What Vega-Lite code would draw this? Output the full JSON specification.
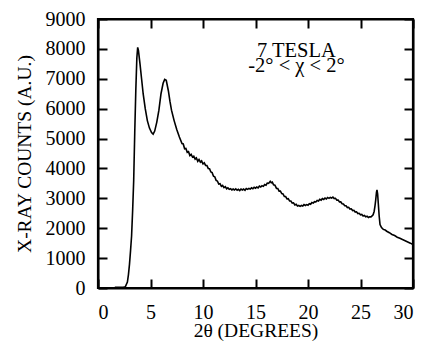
{
  "$schema": "https://vega.github.io/schema/vega-lite/v6.json",
  "width": 315,
  "height": 269,
  "autosize": "none",
  "padding": {"left": 98, "top": 19, "right": 13, "bottom": 53},
  "config": {
    "view": {"stroke": "black", "strokeWidth": 2.2},
    "font": "Liberation Serif",
    "axis": {
      "grid": false,
      "labelFont": "Liberation Serif",
      "labelFontSize": 20,
      "labelColor": "black",
      "titleFont": "Liberation Serif",
      "titleFontSize": 19.5,
      "titleFontWeight": "normal",
      "titleColor": "black",
      "format": "d"
    }
  },
  "datasets": {
    "scan": [
      {"x": 1.6, "y": 20}, {"x": 2.0, "y": 20}, {"x": 2.4, "y": 25}, {"x": 2.6, "y": 40},
      {"x": 2.8, "y": 200}, {"x": 2.9, "y": 450}, {"x": 3.0, "y": 800}, {"x": 3.1, "y": 1250},
      {"x": 3.2, "y": 1750}, {"x": 3.3, "y": 2600}, {"x": 3.4, "y": 3600}, {"x": 3.5, "y": 5200},
      {"x": 3.6, "y": 6600}, {"x": 3.7, "y": 7700}, {"x": 3.78, "y": 8050}, {"x": 3.85, "y": 7950},
      {"x": 4.0, "y": 7500}, {"x": 4.15, "y": 7000}, {"x": 4.3, "y": 6500}, {"x": 4.5, "y": 6000},
      {"x": 4.7, "y": 5600}, {"x": 4.9, "y": 5350}, {"x": 5.1, "y": 5200}, {"x": 5.25, "y": 5150},
      {"x": 5.4, "y": 5250}, {"x": 5.6, "y": 5550}, {"x": 5.8, "y": 5950}, {"x": 6.0, "y": 6500},
      {"x": 6.2, "y": 6850}, {"x": 6.35, "y": 6980}, {"x": 6.5, "y": 6950}, {"x": 6.7, "y": 6600},
      {"x": 6.85, "y": 6250}, {"x": 7.0, "y": 5950}, {"x": 7.25, "y": 5600}, {"x": 7.5, "y": 5300},
      {"x": 7.75, "y": 5050}, {"x": 8.0, "y": 4830}, {"x": 8.12, "y": 4820}, {"x": 8.25, "y": 4660},
      {"x": 8.37, "y": 4670}, {"x": 8.5, "y": 4540}, {"x": 8.62, "y": 4560}, {"x": 8.75, "y": 4430},
      {"x": 8.87, "y": 4470}, {"x": 9.0, "y": 4380}, {"x": 9.12, "y": 4410}, {"x": 9.25, "y": 4310},
      {"x": 9.37, "y": 4350}, {"x": 9.5, "y": 4240}, {"x": 9.62, "y": 4300}, {"x": 9.75, "y": 4210},
      {"x": 9.87, "y": 4250}, {"x": 10.0, "y": 4150}, {"x": 10.12, "y": 4190}, {"x": 10.25, "y": 4100},
      {"x": 10.37, "y": 4100}, {"x": 10.5, "y": 4000}, {"x": 10.62, "y": 3990}, {"x": 10.75, "y": 3880},
      {"x": 10.87, "y": 3860}, {"x": 11.0, "y": 3740}, {"x": 11.12, "y": 3720}, {"x": 11.25, "y": 3600},
      {"x": 11.37, "y": 3580}, {"x": 11.5, "y": 3480}, {"x": 11.62, "y": 3490}, {"x": 11.75, "y": 3400},
      {"x": 11.87, "y": 3430}, {"x": 12.0, "y": 3360}, {"x": 12.12, "y": 3390}, {"x": 12.25, "y": 3320},
      {"x": 12.37, "y": 3350}, {"x": 12.5, "y": 3300}, {"x": 12.62, "y": 3320}, {"x": 12.75, "y": 3280},
      {"x": 12.87, "y": 3310}, {"x": 13.0, "y": 3280}, {"x": 13.12, "y": 3320}, {"x": 13.25, "y": 3270},
      {"x": 13.37, "y": 3300}, {"x": 13.5, "y": 3260}, {"x": 13.62, "y": 3310}, {"x": 13.75, "y": 3280},
      {"x": 13.87, "y": 3310}, {"x": 14.0, "y": 3270}, {"x": 14.12, "y": 3330}, {"x": 14.25, "y": 3300},
      {"x": 14.37, "y": 3330}, {"x": 14.5, "y": 3310}, {"x": 14.62, "y": 3350}, {"x": 14.75, "y": 3320},
      {"x": 14.87, "y": 3370}, {"x": 15.0, "y": 3340}, {"x": 15.12, "y": 3380}, {"x": 15.25, "y": 3350},
      {"x": 15.37, "y": 3410}, {"x": 15.5, "y": 3380}, {"x": 15.62, "y": 3420}, {"x": 15.75, "y": 3400},
      {"x": 15.87, "y": 3460}, {"x": 16.0, "y": 3440}, {"x": 16.12, "y": 3510}, {"x": 16.25, "y": 3500},
      {"x": 16.4, "y": 3570}, {"x": 16.5, "y": 3520}, {"x": 16.6, "y": 3540}, {"x": 16.72, "y": 3450},
      {"x": 16.85, "y": 3440}, {"x": 17.0, "y": 3330}, {"x": 17.12, "y": 3330}, {"x": 17.25, "y": 3240},
      {"x": 17.37, "y": 3240}, {"x": 17.5, "y": 3160}, {"x": 17.62, "y": 3150}, {"x": 17.75, "y": 3060},
      {"x": 17.87, "y": 3060}, {"x": 18.0, "y": 2980}, {"x": 18.12, "y": 2990}, {"x": 18.25, "y": 2910},
      {"x": 18.37, "y": 2910}, {"x": 18.5, "y": 2840}, {"x": 18.62, "y": 2850}, {"x": 18.75, "y": 2780},
      {"x": 18.87, "y": 2800}, {"x": 19.0, "y": 2740}, {"x": 19.12, "y": 2760}, {"x": 19.25, "y": 2730},
      {"x": 19.37, "y": 2760}, {"x": 19.5, "y": 2740}, {"x": 19.62, "y": 2790}, {"x": 19.75, "y": 2760},
      {"x": 19.87, "y": 2790}, {"x": 20.0, "y": 2770}, {"x": 20.12, "y": 2820}, {"x": 20.25, "y": 2800},
      {"x": 20.37, "y": 2860}, {"x": 20.5, "y": 2840}, {"x": 20.62, "y": 2890}, {"x": 20.75, "y": 2880},
      {"x": 20.87, "y": 2930}, {"x": 21.0, "y": 2910}, {"x": 21.12, "y": 2970}, {"x": 21.25, "y": 2940},
      {"x": 21.37, "y": 2990}, {"x": 21.5, "y": 2960}, {"x": 21.62, "y": 3010}, {"x": 21.75, "y": 2980},
      {"x": 21.87, "y": 3030}, {"x": 22.0, "y": 3000}, {"x": 22.12, "y": 3030}, {"x": 22.25, "y": 3010},
      {"x": 22.37, "y": 3040}, {"x": 22.5, "y": 2990}, {"x": 22.62, "y": 3000}, {"x": 22.75, "y": 2940},
      {"x": 22.87, "y": 2940}, {"x": 23.0, "y": 2880}, {"x": 23.12, "y": 2880}, {"x": 23.25, "y": 2820},
      {"x": 23.37, "y": 2810}, {"x": 23.5, "y": 2750}, {"x": 23.62, "y": 2750}, {"x": 23.75, "y": 2690},
      {"x": 23.87, "y": 2700}, {"x": 24.0, "y": 2640}, {"x": 24.12, "y": 2650}, {"x": 24.25, "y": 2590},
      {"x": 24.37, "y": 2600}, {"x": 24.5, "y": 2540}, {"x": 24.62, "y": 2550}, {"x": 24.75, "y": 2490},
      {"x": 24.87, "y": 2500}, {"x": 25.0, "y": 2450}, {"x": 25.12, "y": 2460}, {"x": 25.25, "y": 2410},
      {"x": 25.37, "y": 2430}, {"x": 25.5, "y": 2380}, {"x": 25.62, "y": 2400}, {"x": 25.75, "y": 2360},
      {"x": 25.87, "y": 2380}, {"x": 26.0, "y": 2380}, {"x": 26.1, "y": 2410}, {"x": 26.2, "y": 2450},
      {"x": 26.3, "y": 2560}, {"x": 26.38, "y": 2750}, {"x": 26.45, "y": 2950}, {"x": 26.52, "y": 3200},
      {"x": 26.57, "y": 3280}, {"x": 26.63, "y": 3150}, {"x": 26.7, "y": 2800}, {"x": 26.78, "y": 2400},
      {"x": 26.86, "y": 2120}, {"x": 27.0, "y": 2020}, {"x": 27.17, "y": 1960}, {"x": 27.35, "y": 1940},
      {"x": 27.5, "y": 1900}, {"x": 27.75, "y": 1850}, {"x": 28.0, "y": 1790}, {"x": 28.25, "y": 1755},
      {"x": 28.5, "y": 1700}, {"x": 28.75, "y": 1665}, {"x": 29.0, "y": 1620}, {"x": 29.25, "y": 1580},
      {"x": 29.5, "y": 1540}, {"x": 29.75, "y": 1500}, {"x": 30.0, "y": 1450}
    ],
    "notes": [
      {"x": 18.9, "y": 7730, "t": "7 TESLA"},
      {"x": 18.9, "y": 7220, "t": "-2° < χ < 2°"}
    ]
  },
  "layer": [
    {
      "data": {"name": "scan"},
      "mark": {"type": "line", "color": "black", "strokeWidth": 1.6, "clip": true},
      "encoding": {
        "x": {
          "field": "x", "type": "quantitative",
          "scale": {"domain": [0, 30], "nice": false, "zero": false},
          "axis": {"orient": "bottom", "values": [0, 5, 10, 15, 20, 25, 30], "title": "2θ (DEGREES)", "domainColor": "#000000", "domainWidth": 2, "tickColor": "#000000", "tickSize": -9, "tickWidth": 2, "labelPadding": 23, "titlePadding": -1}
        },
        "y": {
          "field": "y", "type": "quantitative",
          "scale": {"domain": [0, 9000], "nice": false},
          "axis": {"orient": "left", "values": [0, 1000, 2000, 3000, 4000, 5000, 6000, 7000, 8000, 9000], "title": "X-RAY COUNTS (A.U.)", "domainColor": "#000000", "domainWidth": 2, "tickColor": "#000000", "tickSize": -9, "tickWidth": 2, "labelPadding": 22, "titlePadding": 11}
        }
      }
    },
    {
      "data": {"name": "notes"},
      "mark": {"type": "text", "font": "Liberation Serif", "fontSize": 20.5, "baseline": "alphabetic", "align": "center", "color": "black"},
      "encoding": {
        "x": {
          "field": "x", "type": "quantitative",
          "scale": {"domain": [0, 30], "nice": false, "zero": false},
          "axis": {"orient": "top", "values": [0, 5, 10, 15, 20, 25, 30], "labels": false, "title": null, "domainColor": "#000000", "domainWidth": 2, "tickColor": "#000000", "tickSize": -9, "tickWidth": 2}
        },
        "y": {
          "field": "y", "type": "quantitative",
          "scale": {"domain": [0, 9000], "nice": false},
          "axis": {"orient": "right", "values": [0, 1000, 2000, 3000, 4000, 5000, 6000, 7000, 8000, 9000], "labels": false, "title": null, "domainColor": "#000000", "domainWidth": 2, "tickColor": "#000000", "tickSize": -9, "tickWidth": 2}
        },
        "text": {"field": "t"}
      }
    }
  ],
  "resolve": {"axis": {"x": "independent", "y": "independent"}}
}
